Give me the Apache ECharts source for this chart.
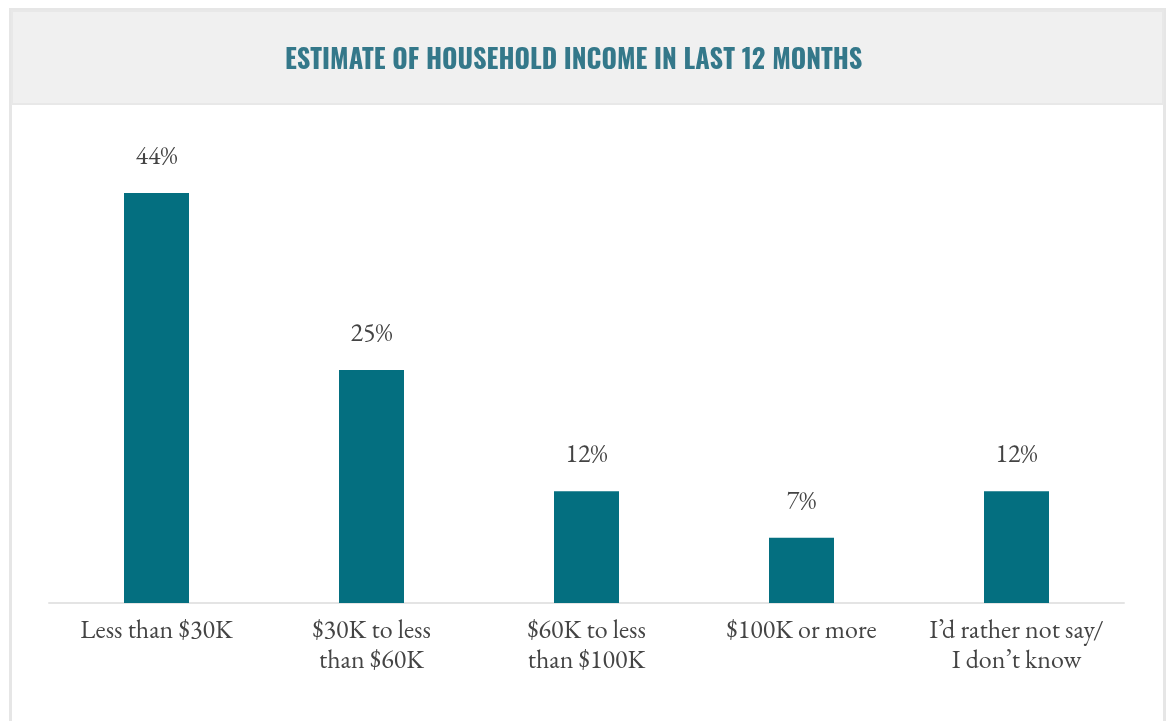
<!DOCTYPE html>
<html><head><meta charset="utf-8">
<script src="https://cdn.jsdelivr.net/npm/echarts@6/dist/echarts.min.js"></script>
<style>html,body{margin:0;padding:0;background:#fff}#c{width:1167px;height:721px}</style>
</head><body><div id="c"></div>
<script>
const categories = ['Less than $30K', '$30K to less\nthan $60K', '$60K to less\nthan $100K', '$100K or more', 'I\u2019d rather not say/\nI don\u2019t know'];
const values = [44, 25, 12, 7, 12];
const titleText = 'ESTIMATE OF HOUSEHOLD INCOME IN LAST 12 MONTHS';

const chart = echarts.init(document.getElementById('c'));
const serif = '"EB Garamond", "Liberation Serif", "DejaVu Serif", serif';
chart.setOption({
  animation: false,
  graphic: [
    { type: 'rect', z: -10, shape: { x: 10.5, y: 9.5, width: 1154, height: 740 }, style: { fill: '#fff', stroke: '#e6e6e6', lineWidth: 3 } },
    { type: 'rect', z: -9, shape: { x: 12, y: 11, width: 1151, height: 93 }, style: { fill: '#f0f0f0', stroke: '#e8e8e8', lineWidth: 2 } }
  ],
  title: {
    text: titleText, left: 280, top: 43,
    textStyle: { fontFamily: '"Oswald", "Liberation Sans Narrow", "DejaVu Sans Condensed", sans-serif', fontWeight: 'bold', fontSize: 26.4, color: '#34788a' }
  },
  grid: { left: 49, right: 43, top: 137, bottom: 118 },
  xAxis: {
    type: 'category', data: categories,
    axisLine: { lineStyle: { color: '#e4e4e4', width: 2 } },
    axisTick: { show: false },
    axisLabel: { interval: 0, margin: 13, color: '#444', fontFamily: serif, fontSize: 26, lineHeight: 30 }
  },
  yAxis: { type: 'value', min: 0, max: 50, show: false, splitLine: { show: false } },
  series: [{
    type: 'bar', data: values, barWidth: 65,
    itemStyle: { color: '#046f80' },
    label: { show: true, position: 'top', distance: 23, formatter: '{c}%', color: '#444', fontFamily: serif, fontSize: 26 }
  }]
});
</script></body></html>
